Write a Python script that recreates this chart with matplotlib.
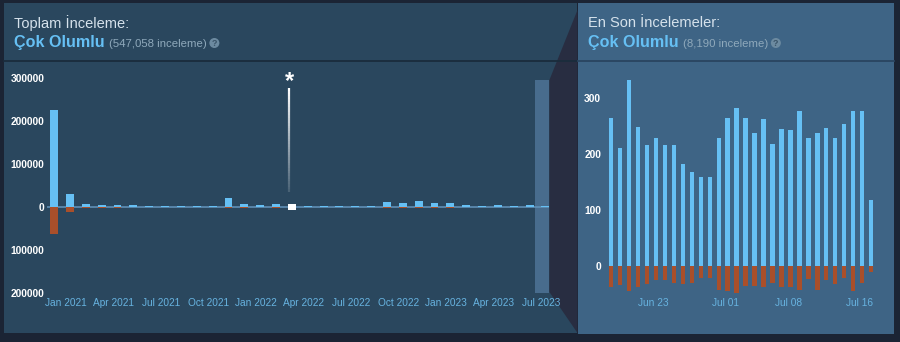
import numpy as np
import matplotlib
matplotlib.use("Agg")
import matplotlib.pyplot as plt
from matplotlib.patches import Rectangle, Polygon, Circle
from matplotlib.collections import LineCollection

plt.rcParams['font.family'] = ['Liberation Sans', 'DejaVu Sans']

# ---- monthly review counts (all time) ----
month_start = (2020, 12)
pos_monthly = [225000, 30000, 7000, 5000, 4500, 3500, 2500, 2500, 2500, 2500, 2500,
               21000, 7000, 5000, 7000, 6000, 3000, 3000, 3000, 3000, 3000,
               11000, 10000, 13000, 9000, 9000, 3500, 3000, 4000, 3000, 4000, 3000]
neg_monthly = [63000, 11000, 3000, 2000, 1500, 1000, 800, 800, 800, 800, 800,
               3000, 1500, 1000, 1500, 6000, 700, 700, 700, 700, 700,
               1500, 1500, 1500, 1200, 1200, 800, 700, 800, 700, 800, 700]
highlight_month = 15          # index of the flagged month (Mar 2022)
month_ticks = ['Jan 2021', 'Apr 2021', 'Jul 2021', 'Oct 2021', 'Jan 2022', 'Apr 2022',
               'Jul 2022', 'Oct 2022', 'Jan 2023', 'Apr 2023', 'Jul 2023']
left_yticks = [-200000, -100000, 0, 100000, 200000, 300000]

# ---- daily review counts (last 30 days, from Jun 18) ----
day_pos = [264, 211, 333, 249, 216, 228, 216, 216, 183, 168, 159, 159, 228, 265, 283,
           264, 237, 263, 217, 245, 242, 276, 228, 238, 246, 229, 253, 276, 276, 118]
day_neg = [38, 34, 44, 38, 32, 25, 25, 31, 32, 30, 22, 22, 42, 44, 49,
           36, 36, 38, 30, 38, 38, 42, 24, 42, 25, 32, 22, 44, 30, 10]
day_tick_pos = [5, 13, 20, 28]
day_ticks = ['Jun 23', 'Jul 01', 'Jul 08', 'Jul 16']
right_yticks = [0, 100, 200, 300]

# colours
OUTER = '#1b2434'
LEFT_BG = '#2a475e'
RIGHT_BG = '#3e6485'
POS = '#66c0f4'
NEG = '#a94f2a'
TICK_BLUE = '#67b3e0'
HEAD = '#d6e2ec'
GRAY = '#8fa9bb'

W, H = 900, 342
fig = plt.figure(figsize=(W / 100, H / 100), dpi=100, facecolor=OUTER)


def px_axes(x0, y0, x1, y1):
    return fig.add_axes([x0 / W, 1 - y1 / H, (x1 - x0) / W, (y1 - y0) / H])


# ---- background panels ----
bg = fig.add_axes([0, 0, 1, 1], zorder=0)
bg.set_xlim(0, W)
bg.set_ylim(H, 0)
bg.axis('off')
bg.add_patch(Rectangle((4, 3), 573, 330, color=LEFT_BG, lw=0))
bg.add_patch(Rectangle((578, 3), 316, 331, color=RIGHT_BG, lw=0))
bg.plot([4, 577], [61, 61], color='#1a2c3c', lw=1.3)
bg.plot([578, 894], [61, 61], color='#2a4460', lw=1.3)
# connector between the 30-day window marker and the detail panel
bg.add_patch(Polygon([(549.4, 80), (577.5, 10), (577.5, 333), (549.4, 292)],
                     closed=True, color='#282d41', lw=0))


def header(x, title, count):
    bg.text(x, 23, title, color=HEAD, fontsize=10.5, va='center', ha='left')
    t = bg.text(x, 43, 'Çok Olumlu', color=POS, fontsize=11.6, fontweight='bold',
                va='center', ha='left')
    fig.canvas.draw()
    bb = t.get_window_extent()
    x2 = bb.x1 + 4
    c = bg.text(x2, 44, f'({count} inceleme)', color=GRAY, fontsize=8.2,
                va='center', ha='left')
    fig.canvas.draw()
    bb2 = c.get_window_extent()
    cx = bb2.x1 + 8
    bg.add_patch(Circle((cx, 43), 5, color='#6c8aa0', lw=0))
    bg.text(cx, 43.5, '?', color='#3a5468', fontsize=6.5, fontweight='bold',
            ha='center', va='center')


header(14, 'Toplam İnceleme:', '547,058')
header(588, 'En Son İncelemeler:', '8,190')

# ---- left chart: monthly history ----
Z, S = 207, 43 / 100000          # zero pixel, pixels per review
T, B = 70, 296
m0 = month_start[0] * 12 + month_start[1] - 1
jan21 = 2021 * 12 + 0
xm = np.array([m0 + i - jan21 for i in range(len(pos_monthly))], dtype=float)

axl = px_axes(47, T, 549.4, B)
axl.set_zorder(1)
axl.patch.set_alpha(0)
axl.set_xlim(-1.2, 30.5)
axl.set_ylim(-(B - Z) / S, (Z - T) / S)

# 30-day window marker
axl.add_patch(Rectangle((29.6, -200000), 0.9, 495000, color='#486c8d', lw=0, zorder=0.5))
axl.axhline(0, color='#5f8fb5', lw=1.2, zorder=1)

pcol = [POS] * len(pos_monthly)
ncol = [NEG] * len(neg_monthly)
pcol[highlight_month] = 'white'
ncol[highlight_month] = 'white'
axl.bar(xm, pos_monthly, width=0.5, align='edge', color=pcol, lw=0, zorder=2)
axl.bar(xm, -np.array(neg_monthly), width=0.5, align='edge', color=ncol, lw=0, zorder=2)

# flagged-month marker line with asterisk
lx = xm[highlight_month] + 0.08
ys = np.linspace(276000, 35000, 40)
segs = [[(lx, ys[i]), (lx, ys[i + 1])] for i in range(len(ys) - 1)]
alphas = np.linspace(1.0, 0.15, len(segs))
lc = LineCollection(segs, colors=[(1, 1, 1, a) for a in alphas], linewidths=1.6, zorder=3)
axl.add_collection(lc)
axl.text(lx, 292000, '*', color='white', fontsize=17, fontweight='bold',
         ha='center', va='center', zorder=3)

axl.set_xticks(np.arange(0, 31, 3))
axl.set_xticklabels(month_ticks)
axl.set_yticks(left_yticks)
axl.set_yticklabels([str(abs(v)) for v in left_yticks])
axl.tick_params(axis='x', length=0, pad=1.5, labelsize=7.3, labelcolor=TICK_BLUE)
axl.tick_params(axis='y', length=0, pad=2, labelsize=7.4, labelcolor='white')
for lab in axl.get_yticklabels():
    lab.set_fontweight('bold')
for s in axl.spines.values():
    s.set_visible(False)

# ---- right chart: last 30 days ----
Zr, Sr = 266, 56 / 100
axr = px_axes(604, T, 880, B)
axr.set_zorder(3)
axr.patch.set_alpha(0)
axr.set_xlim(-0.56, 30.25)
axr.set_ylim(-(B - Zr) / Sr, (Zr - T) / Sr)
xd = np.arange(len(day_pos))
axr.bar(xd, day_pos, width=0.5, align='edge', color=POS, lw=0)
axr.bar(xd, -np.array(day_neg), width=0.5, align='edge', color=NEG, lw=0)
axr.set_xticks(day_tick_pos)
axr.set_xticklabels(day_ticks)
axr.set_yticks(right_yticks)
axr.set_yticklabels([str(v) for v in right_yticks])
axr.tick_params(axis='x', length=0, pad=1.5, labelsize=7.3, labelcolor=TICK_BLUE)
axr.tick_params(axis='y', length=0, pad=2, labelsize=7.4, labelcolor='white')
for lab in axr.get_yticklabels():
    lab.set_fontweight('bold')
for s in axr.spines.values():
    s.set_visible(False)

fig.savefig('out.png', dpi=100, facecolor=OUTER)
